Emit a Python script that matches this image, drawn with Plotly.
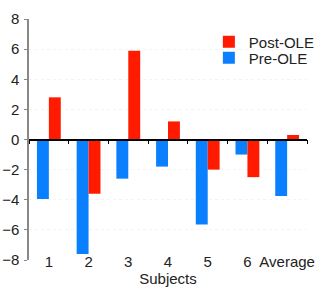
import plotly.graph_objects as go

categories = ["1", "2", "3", "4", "5", "6", "Average"]
pre_ole = [-3.95, -7.6, -2.6, -1.8, -5.65, -1.0, -3.75]
post_ole = [2.8, -3.6, 5.9, 1.2, -2.0, -2.5, 0.3]
y_ticks = [-8, -6, -4, -2, 0, 2, 4, 6, 8]

FONT = "Liberation Sans, Arial, sans-serif"
LEG = dict(x=0.647, xanchor="left", yanchor="middle", bgcolor="rgba(0,0,0,0)",
           font=dict(size=15, family=FONT, color="#222"), itemwidth=30)

fig = go.Figure()
fig.add_trace(go.Bar(x=categories, y=pre_ole, name="Pre-OLE", legend="legend2",
                     marker=dict(color="#0a80ff", line=dict(width=0))))
fig.add_trace(go.Bar(x=categories, y=post_ole, name="Post-OLE", legend="legend",
                     marker=dict(color="#ff1a00", line=dict(width=0))))

fig.update_layout(
    width=332, height=291,
    margin=dict(l=29, r=20, t=19, b=31),
    paper_bgcolor="white", plot_bgcolor="white",
    font=dict(family=FONT, size=15, color="#222"),
    barmode="group", bargap=0.4, bargroupgap=0,
    showlegend=True,
    legend=dict(y=0.905, **LEG),
    legend2=dict(y=0.838, **LEG),
    xaxis=dict(type="category", range=[-0.5, 6.5], showline=False,
               ticks="", showgrid=False, zeroline=False, automargin=False,
               ticklabelstandoff=-9,
               tickfont=dict(size=15),
               title=dict(text="Subjects", standoff=0, font=dict(size=15))),
    xaxis2=dict(type="category", overlaying="x", anchor="free", position=0.5,
                range=[-0.5, 6.5], categoryarray=categories,
                tickvals=categories, showticklabels=False, showline=True,
                linecolor="black", linewidth=1.5, ticks="outside",
                tickson="boundaries", ticklen=4, tickcolor="black",
                showgrid=False, zeroline=False, side="bottom", automargin=False),
    yaxis=dict(range=[-8, 8], tickvals=y_ticks, showline=True,
               linecolor="#888", linewidth=1.5, ticks="outside", ticklen=3,
               tickcolor="#888", showgrid=True, gridcolor="#f4f4f4",
               griddash="dot", zeroline=False, tickfont=dict(size=15),
               ticklabelstandoff=2, automargin=False),
)
# invisible trace so that the overlaying zero-axis is drawn
fig.add_trace(go.Bar(x=categories, y=[0] * len(categories), xaxis="x2",
                     showlegend=False, hoverinfo="skip",
                     marker=dict(color="rgba(0,0,0,0)")))

fig.write_html("out.html", config={"displayModeBar": False},
               post_script="document.body.style.margin='0';")
